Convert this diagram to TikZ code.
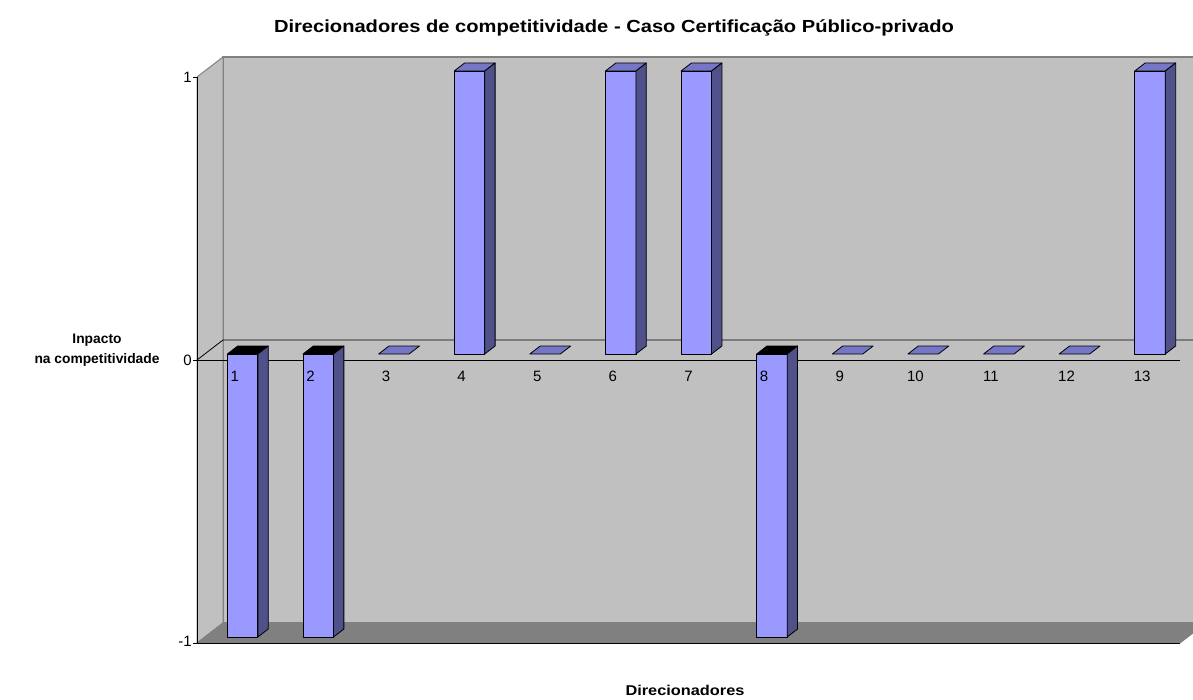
\documentclass[tikz,border=0pt]{standalone}
\usepackage{fontspec}
\setmainfont{Liberation Sans}
\newfontfamily\widesans[FakeStretch=1.15]{Liberation Sans}
\definecolor{wallc}{HTML}{C0C0C0}
\definecolor{floorc}{HTML}{808080}
\definecolor{edgec}{HTML}{808080}
\definecolor{barfront}{HTML}{9999FF}
\definecolor{bartop}{HTML}{7676C6}
\definecolor{barside}{HTML}{50508A}
\begin{document}
\begin{tikzpicture}[x=1pt,y=-1pt,
  frontst/.style={fill=barfront,draw=black,line width=0.8pt,line join=round},
  topst/.style={fill=bartop,draw=black,line width=0.8pt,line join=round},
  negtopst/.style={fill=black,draw=black,line width=0.8pt,line join=round},
  sidest/.style={fill=barside,draw=black,line width=0.8pt,line join=round},
  catlabel/.style={font=\fontsize{15}{18}\selectfont,inner sep=0pt},
  ticklabel/.style={font=\fontsize{15}{18}\selectfont,inner sep=0pt,anchor=east},
  titlest/.style={font=\widesans\bfseries\fontsize{17.5}{20}\selectfont,inner sep=0pt},
  xlabst/.style={font=\widesans\bfseries\fontsize{14.2}{17}\selectfont,inner sep=0pt},
  axlabel/.style={font=\bfseries\fontsize{13.8}{20}\selectfont,inner sep=0pt,align=center}]
\useasboundingbox (0,0) rectangle (1193,700);
\fill[white] (0,0) rectangle (1193,700);
\begin{scope}
\clip (0,0) rectangle (1193,700);
% back wall
\filldraw[fill=wallc,draw=edgec,line width=1.5pt] (223,57) -- (1206,57) -- (1206,623) -- (223,623) -- cycle;
% left wall
\filldraw[fill=wallc,draw=edgec,line width=1pt] (197,77) -- (223,57) -- (223,623) -- (197,643) -- cycle;
% floor
\filldraw[fill=floorc,draw=edgec,line width=0.8pt] (197,643) -- (223,623) -- (1206,623) -- (1180,643) -- cycle;
\draw[black,line width=1pt] (197,643) -- (1180,643);
\draw[black,line width=1pt] (197,77) -- (197,643);
% zero plane lines
\draw[black,line width=0.8pt] (197,360) -- (1180,360);
\draw[black,line width=0.8pt] (197,360) -- (223,340) -- (1206,340);
% ticks
\foreach \yy in {77,360,643} {\draw[black,line width=0.8pt] (193,\yy) -- (197,\yy);}
\end{scope}
% bars
\foreach \i/\v in {1/-1,2/-1,3/0,4/1,5/0,6/1,7/1,8/-1,9/0,10/0,11/0,12/0,13/1} {
  \pgfmathsetmacro{\a}{197+(\i-0.5)*75.615+7.8-15.25}
  \pgfmathsetmacro{\b}{\a+30.5}
  \pgfmathsetmacro{\c}{\b+10.4}
  \pgfmathsetmacro{\d}{\a+10.4}
  \pgfmathsetmacro{\yt}{354-283*\v}
  \pgfmathsetmacro{\ytb}{\yt-8}
  \ifnum\v>0
    \filldraw[frontst] (\a,\yt) rectangle (\b,354);
    \filldraw[topst] (\a,\yt) -- (\d,\ytb) -- (\c,\ytb) -- (\b,\yt) -- cycle;
    \filldraw[sidest] (\b,\yt) -- (\c,\ytb) -- (\c,346) -- (\b,354) -- cycle;
  \fi
  \ifnum\v<0
    \filldraw[frontst] (\a,354) rectangle (\b,637);
    \filldraw[negtopst] (\a,354) -- (\d,346) -- (\c,346) -- (\b,354) -- cycle;
    \filldraw[sidest] (\b,354) -- (\c,346) -- (\c,629) -- (\b,637) -- cycle;
  \fi
  \ifnum\v=0
    \filldraw[topst] (\a,354) -- (\d,346) -- (\c,346) -- (\b,354) -- cycle;
  \fi
}
% category labels
\foreach \i in {1,...,13} {
  \node[catlabel] (lab\i) at ({197+(\i-0.5)*75.615},376) {\i};
}
% value labels
\node[ticklabel] (t1) at (192,77) {1};
\node[ticklabel] (t0) at (192,360) {0};
\node[ticklabel] (tm1) at (192,641) {-1};
% titles
\node[titlest] (title) at (614,28) {Direcionadores de competitividade - Caso Certificação Público-privado};
\node[axlabel] (ylab) at (97,350) {Inpacto\\na competitividade};
\node[xlabst] (xlab) at (685,690) {Direcionadores};
\end{tikzpicture}
\end{document}
